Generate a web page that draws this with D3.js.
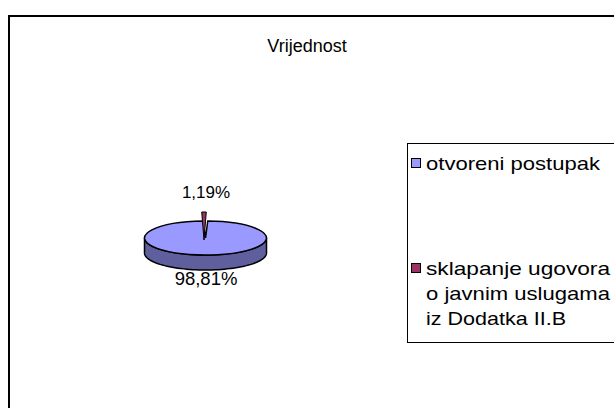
<!DOCTYPE html>
<html>
<head>
<meta charset="utf-8">
<script src="https://cdn.jsdelivr.net/npm/d3@7"></script>
<style>
  body { margin: 0; background: #fff; }
  text { font-family: "Liberation Sans", Arial, sans-serif; fill: #000; }
</style>
</head>
<body>
<svg id="chart" width="614" height="408"></svg>
<script>
// data
const categories = ["otvoreni postupak", "sklapanje ugovora o javnim uslugama iz Dodatka II.B"];
const legendLines = [["otvoreni postupak"], ["sklapanje ugovora", "o javnim uslugama", "iz Dodatka II.B"]];
const legendWidths = [174, 184, 184, 140];
const values = [98.81, 1.19];
const labels = ["98,81%", "1,19%"];
const colors = ["#9999FF", "#993366"];
const sideColors = ["#5F5F9E", "#5C1F3D"];

const svg = d3.select('#chart');

// outer chart frame (runs off the right/bottom edge)
svg.append('rect')
  .attr('x', 9).attr('y', 16)
  .attr('width', 700).attr('height', 500)
  .attr('fill', 'none').attr('stroke', '#000').attr('stroke-width', 2);

svg.append('text')
  .attr('x', 307).attr('y', 52)
  .attr('text-anchor', 'middle')
  .attr('font-size', 18)
  .text('Vrijednost');

// pie geometry
const cx = 205.5, cy = 238, rx = 61, ry = 17, depth = 15;
const smallAngle = values[1] / d3.sum(values) * 2 * Math.PI;

const pie = d3.pie().sort(null).value(d => d)
  .startAngle(smallAngle / 2)
  .endAngle(smallAngle / 2 + 2 * Math.PI);
const arcs = pie(values);

const arc = d3.arc().innerRadius(0).outerRadius(rx);

// side wall of the main slice (front half only)
function ellPt(a, dy) {
  return [cx + rx * Math.sin(a), cy - ry * Math.cos(a) + dy];
}
const a0 = Math.max(arcs[0].startAngle, Math.PI / 2);
const a1 = Math.min(arcs[0].endAngle, 3 * Math.PI / 2);
const steps = d3.range(0, 61).map(i => a0 + (a1 - a0) * i / 60);
const sidePts = steps.map(a => ellPt(a, 0))
  .concat(steps.slice().reverse().map(a => ellPt(a, depth)));
svg.append('path')
  .attr('d', d3.line()(sidePts) + 'Z')
  .attr('fill', sideColors[0])
  .attr('stroke', '#000').attr('stroke-width', 1.5);

// top face of main slice
svg.append('g')
  .attr('transform', `translate(${cx},${cy}) scale(1,${ry / rx})`)
  .append('path')
  .attr('d', arc(arcs[0]))
  .attr('fill', colors[0])
  .attr('stroke', '#000').attr('stroke-width', 1.5)
  .attr('vector-effect', 'non-scaling-stroke');

// small slice, sticking up at the back
svg.append('g')
  .attr('transform', `translate(${cx - 1.5},${cy + 2}) scale(1,${28 / rx})`)
  .append('path')
  .attr('d', arc(arcs[1]))
  .attr('fill', colors[1])
  .attr('stroke', '#000').attr('stroke-width', 1)
  .attr('vector-effect', 'non-scaling-stroke');

// data labels
svg.append('text')
  .attr('x', 206).attr('y', 198)
  .attr('text-anchor', 'middle').attr('font-size', 17)
  .text(labels[1]);
svg.append('text')
  .attr('x', 206).attr('y', 285)
  .attr('text-anchor', 'middle').attr('font-size', 18.5)
  .text(labels[0]);

// legend
const legend = svg.append('g');
legend.append('rect')
  .attr('x', 407.5).attr('y', 143.5)
  .attr('width', 300).attr('height', 199)
  .attr('fill', '#fff').attr('stroke', '#000').attr('stroke-width', 1);

const legendY = [170, 275];
let k = 0;
categories.forEach((c, i) => {
  legend.append('rect')
    .attr('x', 411.5).attr('y', legendY[i] - 11.5)
    .attr('width', 9).attr('height', 9)
    .attr('fill', colors[i]).attr('stroke', '#000').attr('stroke-width', 1);
  legendLines[i].forEach((line, j) => {
    legend.append('text')
      .attr('x', 426).attr('y', legendY[i] + j * 25)
      .attr('font-size', 19)
      .attr('textLength', legendWidths[k++])
      .attr('lengthAdjust', 'spacingAndGlyphs')
      .text(line);
  });
});
</script>
</body>
</html>
